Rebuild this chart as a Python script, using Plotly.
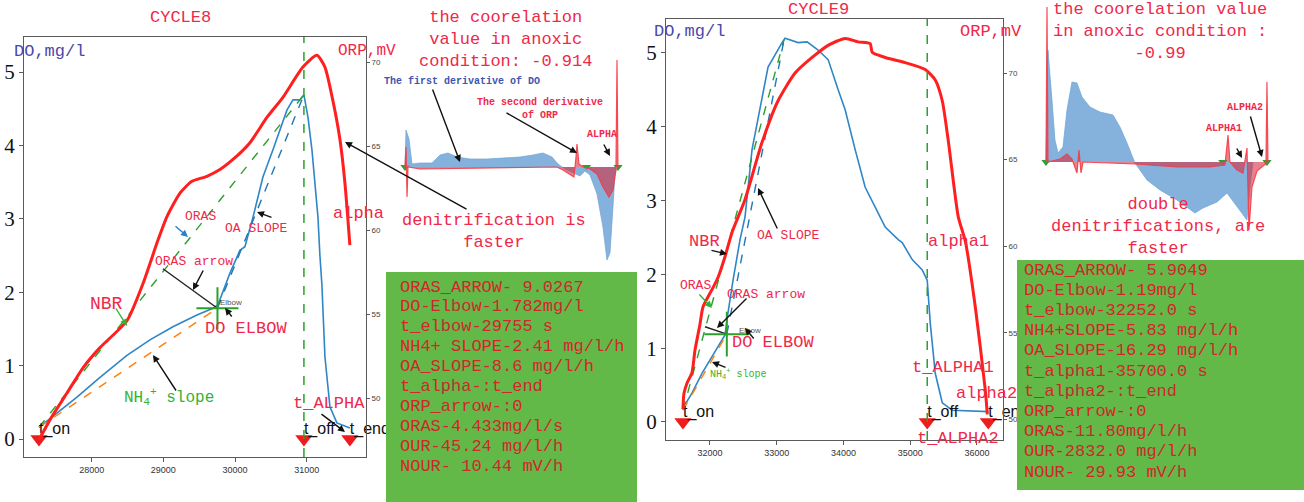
import plotly.graph_objects as go

W, H = 1304, 502
MONO = "Courier New, Liberation Mono, monospace"
SANS = "Liberation Sans, Arial, sans-serif"
SERIF = "Liberation Serif, Times New Roman, serif"

RED_LINE = "#ff1f1f"
BLUE_LINE = "#2f86c6"
GREEN_D = "#2ca02c"
BLUE_D = "#1f77b4"
ORANGE_D = "#ff7f0e"
RED_TXT = "#f0284a"
BOX_TXT = "#d3262c"
BLUE_TXT = "#4848aa"
GREEN_TXT = "#33b233"
BOX_FILL = "#62b948"

# ---------------- CYCLE 8 ----------------
t8_do = [27265, 27516, 27795, 28116, 28492, 28813, 29134, 29469, 29692, 29762,
         29929, 30068, 30138, 30250, 30389, 30529, 30626, 30724, 30808, 30905,
         30961, 31017, 31073, 31115, 31157, 31184, 31212, 31254, 31324, 31421, 31602]
do8 = [0.16, 0.35, 0.57, 0.84, 1.14, 1.35, 1.53, 1.69, 1.78, 1.83,
       2.26, 2.57, 2.62, 3.02, 3.57, 3.94, 4.21, 4.48, 4.62, 4.62,
       4.69, 4.39, 3.94, 3.49, 3.02, 2.50, 2.10, 1.12, 0.44, 0.22, 0.15]
t8_orp = [27265, 27418, 27656, 27879, 28116, 28492, 28715, 28925, 29050, 29232,
          29399, 29608, 29789, 29971, 30208, 30445, 30668, 30947, 31142, 31254,
          31365, 31463, 31533, 31602]
orp8 = [47.5, 48.7, 50.3, 51.8, 53.0, 54.6, 56.8, 59.4, 60.8, 62.2,
        62.9, 63.2, 63.6, 64.2, 65.2, 66.7, 67.9, 69.7, 70.4, 69.7,
        67.7, 65.4, 62.8, 59.1]

t_on8, t_off8, t_end8 = 27265, 30961, 31602
t_elbow8, do_elbow8 = 29755, 1.782
t_peak8, do_peak8 = 30961, 4.69
do_on8 = 0.16
t_oras8, do_oras8 = 28994, 2.32          # start of the ORAS arrow segment

# derivative traces (scaled units)
t8_ddo = [27265, 27285, 27346, 27408, 27570, 27815, 27978, 28140, 28324, 28588,
          28935, 29260, 29606, 29871, 30075, 30258, 30380, 30523, 30686, 30828,
          30930, 31032, 31175, 31296, 31378, 31439, 31500, 31541, 31582]
ddo8 = [0, 37, 28, 3, 4, 4, 12, 14, 10, 8,
        8, 9, 10, 12, 14, 10, 3, -2, -6, -9,
        -4, -8, -27, -60, -93, -86, -40, -7, 0]
t8_d2orp = [27265, 27285, 27306, 27326, 27570, 30360, 30482, 30624, 30706, 30747,
            30767, 30808, 30889, 31032, 31175, 31296, 31418, 31500, 31561, 31582, 31602]
d2orp8 = [0, 20, -30, 0, -2, 0, -3, -8, -10, 10,
          23, 3, 0, -2, -7, -20, -30, -23, -3, 107, 0]

box8_lines = [
    "ORAS_ARROW- 9.0267",
    f"DO-Elbow-{do_elbow8}mg/l",
    f"t_elbow-{t_elbow8} s",
    "NH4+ SLOPE-2.41 mg/l/h",
    "OA_SLOPE-8.6 mg/l/h",
    "t_alpha-:t_end",
    "ORP_arrow-:0",
    "ORAS-4.433mg/l/s",
    "OUR-45.24 mg/l/h",
    "NOUR- 10.44 mV/h",
]

# ---------------- CYCLE 9 ----------------
t9_do = [31595, 31730, 31880, 32030, 32225, 32270, 32345, 32450, 32525, 32630,
         32750, 32870, 33080, 33125, 33320, 33455, 33620, 33770, 33920, 34025,
         34175, 34325, 34475, 34625, 34820, 34880, 35030, 35180, 35255, 35300,
         35375, 35480, 35630, 36170]
do9 = [0.19, 0.39, 0.66, 0.88, 1.18, 1.48, 1.92, 2.47, 2.78, 3.69,
       4.23, 4.81, 5.14, 5.20, 5.14, 5.15, 5.04, 4.91, 4.50, 4.23,
       3.69, 3.18, 2.91, 2.64, 2.47, 2.43, 2.20, 2.06, 1.92, 1.34,
       0.66, 0.26, 0.16, 0.14]
t9_orp = [31595, 31610, 31655, 31730, 31775, 31850, 31895, 32030, 32120, 32225,
          32330, 32525, 32780, 33020, 33275, 33530, 33770, 34025, 34220, 34400,
          34430, 34625, 34925, 35225, 35375, 35480, 35570, 35720, 35825, 35975,
          36125, 36155]
orp9 = [50.6, 51.5, 52.1, 52.7, 54.0, 55.5, 56.5, 57.5, 58.2, 59.4,
        60.8, 62.7, 66.0, 68.4, 70.0, 70.9, 71.6, 72.0, 71.8, 71.7,
        71.2, 70.9, 70.6, 70.2, 69.6, 68.4, 66.1, 61.7, 60.3, 56.5,
        51.7, 50.3]

t_on9, t_off9, t_end9 = 31595, 35255, 36170
t_elbow9, do_elbow9 = 32252, 1.19
t_peak9, do_peak9 = 33110, 5.18
do_on9 = 0.16
t_oras9, do_oras9 = 31925, 1.29

t9_ddo = [31595, 31636, 31719, 31781, 31843, 31947, 32030, 32133, 32237, 32340,
          32506, 32713, 32982, 33127, 33272, 33437, 33686, 33955, 34307, 34679,
          34845, 35135, 35342, 35549, 35756, 35818, 35880]
ddo9 = [0, 112, 62, 22, 9, 15, 52, 80, 79, 65,
        55, 50, 47, 35, 19, -1, -18, -28, -38, -51,
        -46, -40, -31, -45, -58, -25, 0]
t9_d2orp = [31595, 31616, 31636, 31885, 32030, 32133, 32237, 32278, 32320, 32361,
            33437, 34307, 34990, 35300, 35363, 35404, 35549, 35673, 35756, 35797,
            35859, 35963, 36087, 36149, 36170, 36190]
d2orp9 = [0, 155, 0, 3, 8, 3, -11, 12, -11, 0,
          -2, -5, -5, -3, 27, 0, -8, -11, 14, -68,
          -25, -9, -4, -2, 80, 0]

box9_lines = [
    "ORAS_ARROW- 5.9049",
    f"DO-Elbow-{do_elbow9}mg/l",
    f"t_elbow-{float(t_elbow9)} s",
    "NH4+SLOPE-5.83 mg/l/h",
    "OA_SLOPE-16.29 mg/l/h",
    "t_alpha1-35700.0 s",
    "t_alpha2-:t_end",
    "ORP_arrow-:0",
    "ORAS-11.80mg/l/h",
    "OUR-2832.0 mg/l/h",
    "NOUR- 29.93 mV/h",
]


def px(x):
    return x / W


def py(y):
    return 1 - y / H


fig = go.Figure()


def line(x, y, xa, ya, color, width=1.5, dash=None, shape="linear"):
    fig.add_trace(go.Scatter(x=x, y=y, mode="lines", xaxis=xa, yaxis=ya,
                             line=dict(color=color, width=width, dash=dash,
                                       shape=shape, smoothing=0.6),
                             showlegend=False, hoverinfo="skip"))


def main_panel(xa, ya, ya2, t_do, do, t_orp, orp, t_on, t_off, t_end,
               t_el, do_el, t_pk, do_pk, do_on, t_or, do_or, cross_size):
    line(t_do, do, xa, ya, BLUE_LINE, 1.6)
    line([t_on, t_pk], [do_on, do_pk], xa, ya, GREEN_D, 1.4, "dash")
    line([t_el, t_pk], [do_el, do_pk], xa, ya, BLUE_D, 1.4, "dash")
    line([t_on, t_el], [do_on, do_el], xa, ya, ORANGE_D, 1.4, "dash")
    line([t_or, t_el], [do_or, do_el], xa, ya, "#222222", 1.4)
    fig.add_trace(go.Scatter(x=[t_el], y=[do_el], mode="markers", xaxis=xa, yaxis=ya,
                             marker=dict(symbol="cross-thin", size=cross_size,
                                         line=dict(color=GREEN_D, width=2)),
                             showlegend=False, hoverinfo="skip"))
    fig.add_trace(go.Scatter(x=[t_on, t_off, t_end], y=[0, 0, 0], mode="markers",
                             xaxis=xa, yaxis=ya, cliponaxis=False,
                             marker=dict(symbol="triangle-down", size=15, color="#ee1c1c"),
                             showlegend=False, hoverinfo="skip"))
    fig.add_trace(go.Scatter(x=[t_on, t_off, t_end], y=[0.12, 0.12, 0.12], mode="text",
                             xaxis=xa, yaxis=ya, cliponaxis=False,
                             text=["t_on", "t_off", "t_end"], textposition="middle right",
                             textfont=dict(family=SANS, size=16, color="#111111"),
                             showlegend=False, hoverinfo="skip"))
    line(t_orp, orp, xa, ya2, RED_LINE, 3, shape="spline")


def inset(xa, ya, t_d1, d1, t_d2, d2, events):
    fig.add_trace(go.Scatter(x=events, y=[0] * len(events), mode="markers",
                             xaxis=xa, yaxis=ya, cliponaxis=False,
                             marker=dict(symbol="triangle-down", size=8, color=GREEN_D),
                             showlegend=False, hoverinfo="skip"))
    fig.add_trace(go.Scatter(x=t_d1, y=d1, mode="lines", fill="tozeroy",
                             xaxis=xa, yaxis=ya,
                             fillcolor="rgba(110,165,215,0.85)",
                             line=dict(color="rgba(110,165,215,0.9)", width=0.8),
                             showlegend=False, hoverinfo="skip"))
    fig.add_trace(go.Scatter(x=t_d2, y=d2, mode="lines", fill="tozeroy",
                             xaxis=xa, yaxis=ya,
                             fillcolor="rgba(215,45,65,0.6)",
                             line=dict(color="rgba(245,60,70,0.9)", width=1.2),
                             showlegend=False, hoverinfo="skip"))


main_panel("x", "y", "y2", t8_do, do8, t8_orp, orp8, t_on8, t_off8, t_end8,
           t_elbow8, do_elbow8, t_peak8, do_peak8, do_on8, t_oras8, do_oras8, 30)
inset("x3", "y3", t8_ddo, ddo8, t8_d2orp, d2orp8, [t_on8, t_off8, t_end8])
main_panel("x4", "y4", "y5", t9_do, do9, t9_orp, orp9, t_on9, t_off9, t_end9,
           t_elbow9, do_elbow9, t_peak9, do_peak9, do_on9, t_oras9, do_oras9, 32)
inset("x6", "y6", t9_ddo, ddo9, t9_d2orp, d2orp9, [t_on9, t_off9, t_end9])

frame = dict(showline=True, linecolor="#5a5a5a", linewidth=1.3, mirror=True,
             ticks="outside", ticklen=4, tickcolor="#5a5a5a",
             showgrid=False, zeroline=False)
xtick = dict(family=SANS, size=9, color="#333333")
ytick_big = dict(family=SERIF, size=21, color="#111111")
ytick_small = dict(family=SANS, size=8, color="#444444")
hidden = dict(visible=False, showgrid=False, zeroline=False)

layout = dict(
    width=W, height=H, margin=dict(l=0, r=0, t=0, b=0),
    paper_bgcolor="white", plot_bgcolor="rgba(0,0,0,0)",
    showlegend=False,
    xaxis=dict(domain=[px(24), px(366)], range=[27056, 31827], anchor="y",
               tickvals=[28000, 29000, 30000, 31000], tickformat="d",
               tickfont=xtick, **frame),
    yaxis=dict(domain=[py(457), py(37)], range=[-0.245, 5.477], anchor="x",
               tickvals=[0, 1, 2, 3, 4, 5], tickfont=ytick_big, **frame),
    yaxis2=dict(overlaying="y", side="right", anchor="x", range=[46.49, 71.49],
                tickvals=[50, 55, 60, 65, 70], tickfont=ytick_small,
                ticks="outside", ticklen=3, tickcolor="#5a5a5a",
                showgrid=False, zeroline=False, showline=False),
    xaxis3=dict(domain=[px(400), px(625)], range=[27163, 31745], anchor="y3", **hidden),
    yaxis3=dict(domain=[py(272), py(40)], range=[-105, 127], anchor="x3", **hidden),
    xaxis4=dict(domain=[px(666), px(1003)], range=[31341, 36390], anchor="y4",
                tickvals=[32000, 33000, 34000, 35000, 36000], tickformat="d",
                tickfont=xtick, **frame),
    yaxis4=dict(domain=[py(440), py(19)], range=[-0.244, 5.46], anchor="x4",
                tickvals=[0, 1, 2, 3, 4, 5], tickfont=ytick_big, **frame),
    yaxis5=dict(overlaying="y4", side="right", anchor="x4", range=[48.82, 73.12],
                tickvals=[50, 55, 60, 65, 70], tickfont=ytick_small,
                ticks="outside", ticklen=3, tickcolor="#5a5a5a",
                showgrid=False, zeroline=False, showline=False),
    xaxis6=dict(domain=[px(1040), px(1275)], range=[31471, 36336], anchor="y6", **hidden),
    yaxis6=dict(domain=[py(262), py(0)], range=[-100, 162], anchor="x6", **hidden),
)

shapes = [
    dict(type="line", xref="x", yref="y domain", x0=t_off8, x1=t_off8, y0=0, y1=1,
         line=dict(color=GREEN_D, width=1.5, dash="dash"), layer="above"),
    dict(type="line", xref="x4", yref="y4 domain", x0=t_off9, x1=t_off9, y0=0, y1=1,
         line=dict(color=GREEN_D, width=1.5, dash="dash"), layer="above"),
    dict(type="rect", xref="paper", yref="paper", x0=px(386), x1=px(637),
         y0=py(502), y1=py(272), fillcolor=BOX_FILL, line=dict(width=0), layer="above"),
    dict(type="rect", xref="paper", yref="paper", x0=px(1017), x1=px(1304),
         y0=py(490), y1=py(260), fillcolor=BOX_FILL, line=dict(width=0), layer="above"),
]

ann = []


def label(text, x, y, size, color=RED_TXT, anchor="left", family=MONO, bold=False):
    if bold:
        text = f"<b>{text}</b>"
    ann.append(dict(x=px(x), y=py(y), xref="paper", yref="paper", text=text,
                    showarrow=False, xanchor=anchor, yanchor="middle", align="center",
                    font=dict(family=family, size=size, color=color)))


def arrow(tail, head, color="#111111", width=1.4):
    ann.append(dict(x=px(head[0]), y=py(head[1]), xref="paper", yref="paper",
                    ax=tail[0] - head[0], ay=tail[1] - head[1],
                    axref="pixel", ayref="pixel", text="", showarrow=True,
                    arrowhead=2, arrowsize=1, arrowwidth=width, arrowcolor=color))


# cycle 8 panel
label("CYCLE8", 180, 18, 17, anchor="center")
label("DO,mg/l", 12, 51, 17, color=BLUE_TXT)
label("ORP,mV", 336, 51, 16)
label("ORAS", 183, 216, 13)
label("OA SLOPE", 223, 228, 13)
label("alpha", 331, 213, 17)
label("ORAS arrow", 153, 261, 13)
label("NBR", 88, 304, 18)
label("DO ELBOW", 203, 328, 17)
label("NH<sub>4</sub><sup>+</sup> slope", 122, 397, 16, color=GREEN_TXT)
label("t_ALPHA", 291, 403, 17)
label("Elbow", 218, 302, 8, color="#555555", family=SANS)
arrow((174, 225), (188, 237), color="#2a80c8")
arrow((273, 218), (257, 212))
arrow((204, 269), (193, 290))
arrow((115, 307), (127, 326), color=GREEN_TXT)
arrow((233, 318), (225, 308))
arrow((177, 392), (153, 355))
arrow((320, 413), (345, 432))
arrow((468, 210), (345, 142))

# cycle 8 derivative inset
label("the coorelation<br>value in anoxic<br>condition: -0.914", 505, 39, 17, anchor="center")
label("The first derivative of DO", 382, 82, 10, color="#3d55b0", bold=True)
label("The second derivative<br>of ORP", 540, 109, 10, anchor="center", bold=True)
label("ALPHA", 585, 134, 10, bold=True)
label("denitrification is<br>faster", 494, 231, 17, anchor="center")
arrow((432, 88), (460, 162))
arrow((505, 112), (577, 153))
arrow((603, 143), (610, 156))

for i, s in enumerate(box8_lines):
    label(s, 398, 287 + 19.9 * i, 17, color=BOX_TXT)

# cycle 9 panel
label("CYCLE9", 818, 10, 17, anchor="center")
label("DO,mg/l", 652, 32, 17, color=BLUE_TXT)
label("ORP,mV", 958, 32, 17)
label("NBR", 687, 241, 17)
label("OA SLOPE", 755, 235, 13)
label("alpha1", 926, 241, 17)
label("ORAS", 678, 285, 13)
label("ORAS arrow", 725, 294, 13)
label("Elbow", 737, 330, 8, color="#555555", family=SANS)
label("DO ELBOW", 730, 342, 17)
label("NH<sub>4</sub><sup>+</sup> slope", 708, 374, 10, color=GREEN_TXT)
label("t_ALPHA1", 910, 367, 17)
label("alpha2", 954, 393, 17)
label("t_ALPHA2", 915, 438, 17)
arrow((710, 250), (727, 254))
arrow((698, 293), (712, 308), color=GREEN_TXT)
arrow((748, 297), (717, 328))
arrow((755, 340), (745, 328))
arrow((727, 368), (712, 362))
arrow((778, 230), (758, 188))

# cycle 9 derivative inset
label("the coorelation value<br>in anoxic condition :<br>-0.99", 1160, 32, 17, anchor="center")
label("ALPHA2", 1225, 107, 10, bold=True)
label("ALPHA1", 1204, 128, 10, bold=True)
label("double<br>denitrifications, are<br>faster", 1158, 226, 17, anchor="center")
arrow((1250, 115), (1262, 157))
arrow((1236, 147), (1242, 158))

for i, s in enumerate(box9_lines):
    label(s, 1022, 270 + 20.2 * i, 17, color=BOX_TXT)

layout["shapes"] = shapes
layout["annotations"] = ann
fig.update_layout(**layout)
fig.write_html("out.html")
